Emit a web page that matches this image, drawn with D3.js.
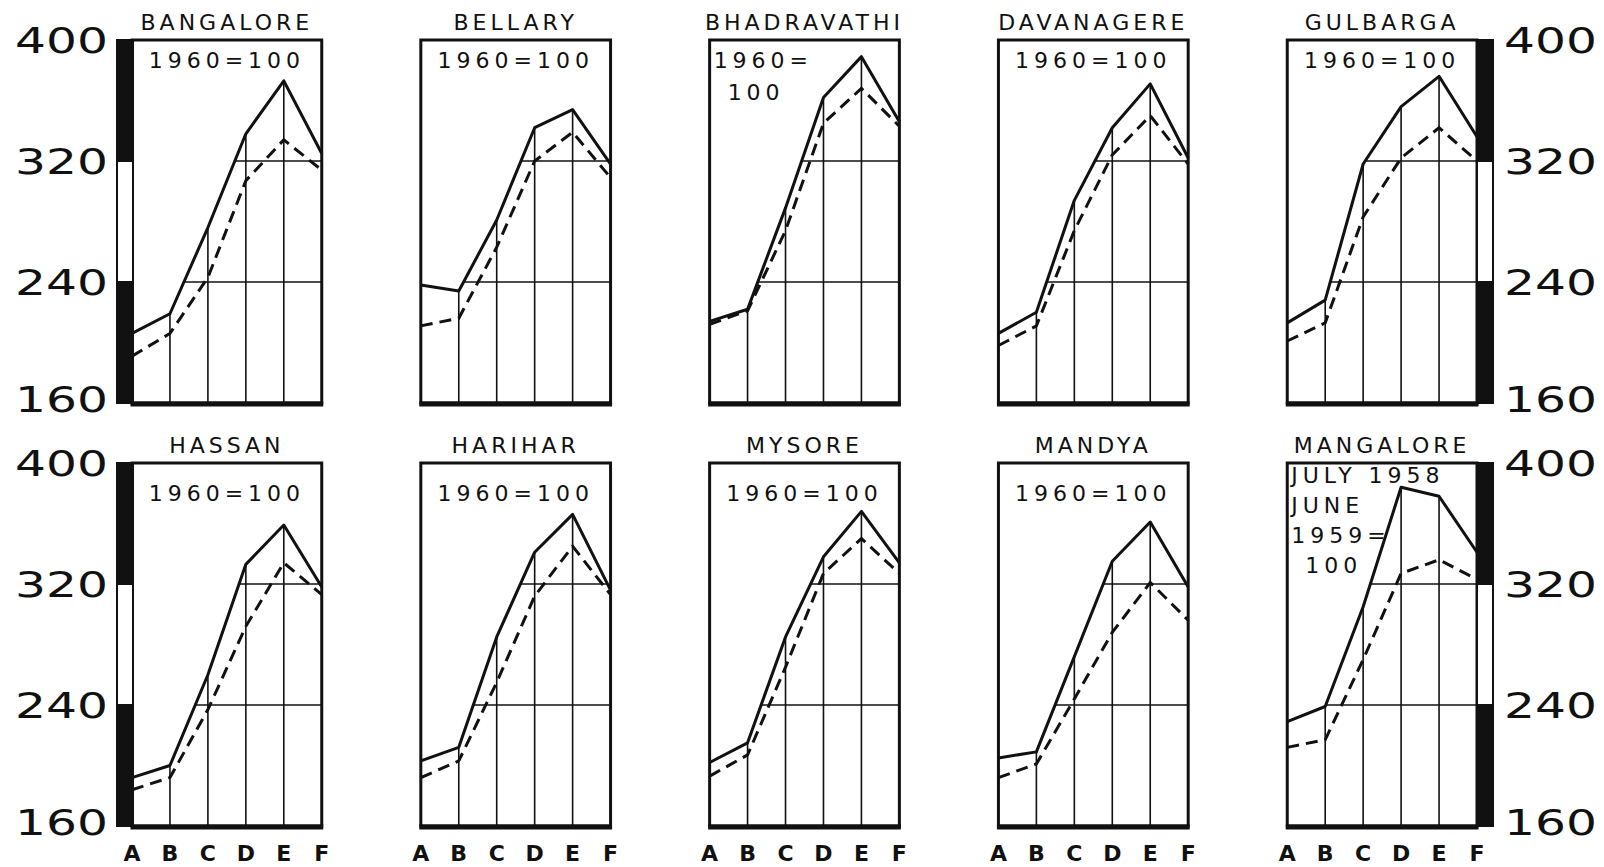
<!DOCTYPE html>
<html>
<head>
<meta charset="utf-8">
<script src="https://cdn.jsdelivr.net/npm/d3@7"></script>
<style>
  html, body { margin: 0; padding: 0; background: #fff; }
  text { font-family: "DejaVu Sans", sans-serif; fill: #111; }
</style>
</head>
<body>
<div id="chart"></div>
<script>
// panel x positions
const letters = ["A", "B", "C", "D", "E", "F"]

const towns = ["BANGALORE", "BELLARY", "BHADRAVATHI", "DAVANAGERE", "GULBARGA",
  "HASSAN", "HARIHAR", "MYSORE", "MANDYA", "MANGALORE"]

const notes = [
  ["1960=100"], ["1960=100"], ["1960=", "100"], ["1960=100"], ["1960=100"],
  ["1960=100"], ["1960=100"], ["1960=100"], ["1960=100"], ["JULY 1958", "JUNE", "1959=", "100"]
]

// solid line (index values A..F)
const solidIdx = [
  [206, 219, 276, 338, 373, 325],
  [238, 234, 281, 342, 354, 318],
  [214, 222, 289, 362, 389, 346],
  [206, 220, 294, 342, 371, 322],
  [213, 228, 318, 356, 376, 336],
  [192, 200, 260, 333, 359, 318],
  [203, 212, 285, 341, 366, 316],
  [202, 215, 285, 338, 368, 334],
  [205, 209, 272, 335, 361, 318],
  [229, 239, 305, 384, 378, 341]
]

// dashed line
const dashedIdx = [
  [191, 206, 243, 307, 334, 314],
  [211, 216, 263, 320, 339, 309],
  [212, 221, 274, 345, 368, 343],
  [198, 211, 274, 324, 350, 318],
  [201, 213, 283, 322, 342, 320],
  [184, 192, 237, 292, 334, 313],
  [192, 203, 255, 312, 345, 313],
  [193, 207, 265, 327, 350, 327],
  [192, 201, 244, 288, 321, 296],
  [212, 217, 270, 327, 336, 323]
]

const yTicks = [160, 240, 320, 400]
const gridValues = [240, 320]
const barBands = [[320, 400], [240, 320], [160, 240]]

let width = 1604
let height = 867
let panelH = 363
let rowTops = [40, 463]

const svg = d3.select('#chart')
  .append('svg')
  .attr('width', width)
  .attr('height', height)

svg.append('rect').attr('width', width).attr('height', height).attr('fill', '#fff')

let colScale = d3.scaleBand()
  .domain(d3.range(5))
  .range([132, 1477])
  .paddingInner(0.343)

let bw = colScale.bandwidth()

let xScale = d3.scalePoint()
  .domain(letters)
  .range([0, bw])

let yScale = d3.scaleLinear()
  .domain([160, 400])
  .range([panelH, 0])

let solidLine = d3.line()
  .x((d, i) => xScale(letters[i]))
  .y(d => yScale(d))

let underArea = d3.area()
  .x((d, i) => xScale(letters[i]))
  .y0(panelH)
  .y1(d => yScale(d))

towns.forEach(function(town, i){

  let col = i % 5
  let row = Math.floor(i / 5)

  let g = svg.append('g')
    .attr('transform', `translate(${colScale(col)},${rowTops[row]})`)

  // clip for grid: only below the solid curve
  svg.append('defs').append('clipPath')
    .attr('id', 'under' + i)
    .append('path')
    .attr('d', underArea(solidIdx[i]))

  let grid = g.append('g')
    .attr('clip-path', `url(#under${i})`)
    .attr('stroke', '#111')
    .attr('stroke-width', 1.6)

  grid.selectAll('.vg')
    .data(letters.slice(1, 5))
    .join('line')
    .attr('x1', d => xScale(d))
    .attr('x2', d => xScale(d))
    .attr('y1', 0)
    .attr('y2', panelH)

  grid.selectAll('.hg')
    .data(gridValues)
    .join('line')
    .attr('x1', 0)
    .attr('x2', bw)
    .attr('y1', d => yScale(d))
    .attr('y2', d => yScale(d))

  g.append('path')
    .datum(dashedIdx[i])
    .attr('d', solidLine)
    .attr('fill', 'none')
    .attr('stroke', '#111')
    .attr('stroke-width', 3)
    .attr('stroke-dasharray', '12,7')

  g.append('path')
    .datum(solidIdx[i])
    .attr('d', solidLine)
    .attr('fill', 'none')
    .attr('stroke', '#111')
    .attr('stroke-width', 3)
    .attr('stroke-linejoin', 'round')

  // frame
  g.append('rect')
    .attr('x', 0)
    .attr('y', 0)
    .attr('width', bw)
    .attr('height', panelH)
    .attr('fill', 'none')
    .attr('stroke', '#111')
    .attr('stroke-width', 3)

  g.append('line')
    .attr('x1', -1.5)
    .attr('x2', bw + 1.5)
    .attr('y1', panelH + 1)
    .attr('y2', panelH + 1)
    .attr('stroke', '#111')
    .attr('stroke-width', 5)

  // title
  g.append('text')
    .attr('x', bw / 2)
    .attr('y', -10)
    .attr('text-anchor', 'middle')
    .attr('font-size', 22)
    .attr('letter-spacing', 4)
    .text(town)

  // base note
  let lines = notes[i]
  if (lines.length == 1) {
    g.append('text')
      .attr('x', bw / 2)
      .attr('y', row == 0 ? 28 : 38)
      .attr('text-anchor', 'middle')
      .attr('font-size', 22)
      .attr('letter-spacing', 5)
      .text(lines[0])
  } else {
    let first = row == 0 ? 28 : 20
    let step = row == 0 ? 32 : 30
    lines.forEach(function(t, k){
      g.append('text')
        .attr('x', k == lines.length - 1 ? 18 : 4)
        .attr('y', first + k * step)
        .attr('font-size', 22)
        .attr('letter-spacing', 5)
        .text(t)
    })
  }

  // side bar with the banded scale
  if (col == 0 || col == 4) {
    let bx = col == 0 ? -15 : bw
    g.selectAll('.band')
      .data(barBands)
      .join('rect')
      .attr('x', bx)
      .attr('width', 16)
      .attr('y', d => yScale(d[1]))
      .attr('height', d => yScale(d[0]) - yScale(d[1]))
      .attr('fill', (d, k) => k == 1 ? '#fff' : '#111')
      .attr('stroke', '#111')
      .attr('stroke-width', 2)

    // axis numbers
    g.selectAll('.num')
      .data(yTicks)
      .join('text')
      .attr('x', col == 0 ? -117 : bw + 27)
      .attr('y', d => yScale(d) - (d == 160 ? 4 : 0))
      .attr('dy', '0.36em')
      .attr('font-size', 35)
      .attr('textLength', 93)
      .attr('lengthAdjust', 'spacingAndGlyphs')
      .text(d => d)
  }

  // letters under bottom row
  if (row == 1) {
    g.selectAll('.lab')
      .data(letters)
      .join('text')
      .attr('x', d => xScale(d))
      .attr('y', panelH + 35)
      .attr('text-anchor', 'middle')
      .attr('font-size', 22)
      .attr('font-weight', 'bold')
      .text(d => d)
  }
})
</script>
</body>
</html>
